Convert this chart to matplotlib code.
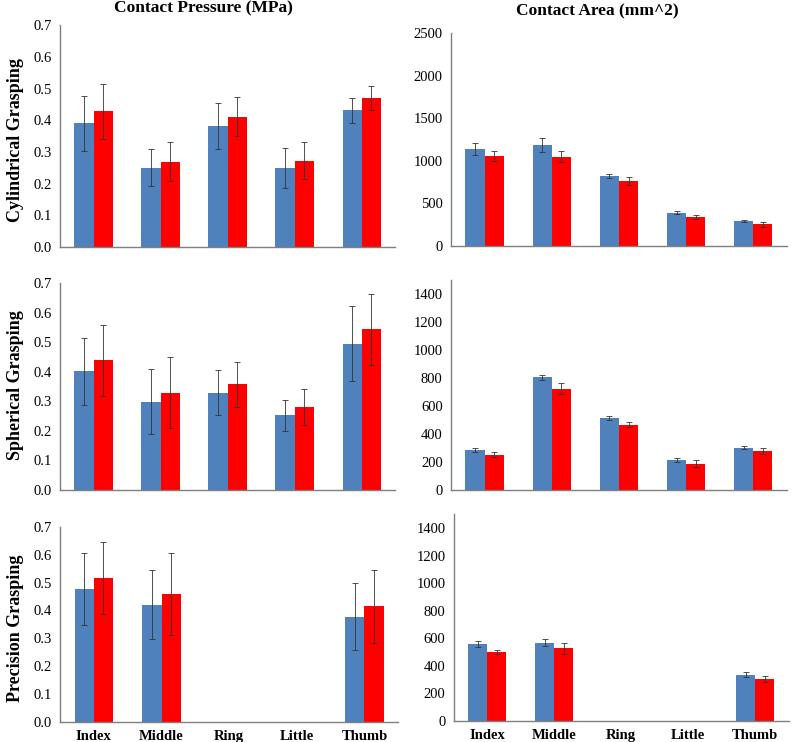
import matplotlib.pyplot as plt
import numpy as np

fingers = ["Index", "Middle", "Ring", "Little", "Thumb"]
rows = ["Cylindrical Grasping", "Spherical Grasping", "Precision Grasping"]
nan = np.nan

# contact pressure (MPa): blue / red series with error bars
cyl_p_blue = [0.39, 0.25, 0.383, 0.249, 0.431]
cyl_p_blue_err = [0.086, 0.058, 0.073, 0.063, 0.038]
cyl_p_red = [0.428, 0.27, 0.412, 0.272, 0.47]
cyl_p_red_err = [0.086, 0.06, 0.063, 0.058, 0.037]

sph_p_blue = [0.402, 0.299, 0.329, 0.253, 0.495]
sph_p_blue_err = [0.113, 0.11, 0.076, 0.053, 0.126]
sph_p_red = [0.439, 0.329, 0.357, 0.28, 0.544]
sph_p_red_err = [0.12, 0.12, 0.077, 0.06, 0.12]

pre_p_blue = [0.477, 0.421, nan, nan, 0.378]
pre_p_blue_err = [0.128, 0.123, nan, nan, 0.12]
pre_p_red = [0.516, 0.459, nan, nan, 0.415]
pre_p_red_err = [0.13, 0.148, nan, nan, 0.13]

# contact area (mm^2)
cyl_a_blue = [1140, 1185, 822, 392, 292]
cyl_a_blue_err = [72, 78, 25, 20, 16]
cyl_a_red = [1055, 1050, 765, 337, 255]
cyl_a_red_err = [57, 62, 50, 22, 30]

sph_a_blue = [286, 806, 513, 212, 303]
sph_a_blue_err = [17, 17, 14, 15, 10]
sph_a_red = [253, 723, 467, 188, 277]
sph_a_red_err = [17, 40, 17, 24, 21]

pre_a_blue = [560, 568, nan, nan, 337]
pre_a_blue_err = [20, 24, nan, nan, 20]
pre_a_red = [500, 527, nan, nan, 306]
pre_a_red_err = [12, 40, nan, nan, 24]

pressure = [(cyl_p_blue, cyl_p_blue_err, cyl_p_red, cyl_p_red_err),
            (sph_p_blue, sph_p_blue_err, sph_p_red, sph_p_red_err),
            (pre_p_blue, pre_p_blue_err, pre_p_red, pre_p_red_err)]
area = [(cyl_a_blue, cyl_a_blue_err, cyl_a_red, cyl_a_red_err),
        (sph_a_blue, sph_a_blue_err, sph_a_red, sph_a_red_err),
        (pre_a_blue, pre_a_blue_err, pre_a_red, pre_a_red_err)]

BLUE = "#4F81BD"
RED = "#FF0000"
SERIF = "Liberation Serif"

plt.rcParams["font.family"] = SERIF

fig = plt.figure(figsize=(7.96, 7.42), dpi=100)

# [left, bottom, width, height] for each panel
left_pos = [[0.0754, 0.667, 0.421, 0.299],
            [0.0754, 0.3396, 0.421, 0.279],
            [0.0754, 0.027, 0.425, 0.263]]
right_pos = [[0.5666, 0.6685, 0.422, 0.287],
             [0.5666, 0.3396, 0.422, 0.283],
             [0.570, 0.0283, 0.421, 0.2787]]

x = np.arange(len(fingers))
w = 0.285


def draw(ax, data, ylim, yticks, fmt, show_x):
    blue, blue_err, red, red_err = data
    ekw = dict(ecolor="#333333", elinewidth=0.6, capsize=2, capthick=0.6)
    ax.bar(x - w / 2, blue, w, yerr=blue_err, color=BLUE, error_kw=ekw)
    ax.bar(x + w / 2, red, w, yerr=red_err, color=RED, error_kw=ekw)
    ax.set_xlim(-0.5, 4.5)
    ax.set_ylim(*ylim)
    ax.set_yticks(yticks)
    ax.set_yticklabels([fmt % t for t in yticks], fontsize=10.5)
    for s in ["top", "right"]:
        ax.spines[s].set_visible(False)
    for s in ["left", "bottom"]:
        ax.spines[s].set_color("#7f7f7f")
        ax.spines[s].set_linewidth(1.0)
    ax.tick_params(axis="both", length=0, pad=6)
    ax.set_xticks(x)
    if show_x:
        ax.set_xticklabels(fingers, fontsize=10.5, fontweight="bold")
    else:
        ax.set_xticklabels([])


for i in range(3):
    axl = fig.add_axes(left_pos[i])
    draw(axl, pressure[i], (0, 0.7), np.arange(0, 0.71, 0.1), "%.1f", i == 2)
    axr = fig.add_axes(right_pos[i])
    if i == 0:
        draw(axr, area[i], (0, 2500), np.arange(0, 2501, 500), "%d", False)
    else:
        draw(axr, area[i], (0, 1500), np.arange(0, 1401, 200), "%d", i == 2)

fig.text(0.255, 0.989, "Contact Pressure (MPa)", ha="center", va="center",
         fontsize=12.5, fontweight="bold")
fig.text(0.75, 0.984, "Contact Area (mm^2)", ha="center", va="center",
         fontsize=12.5, fontweight="bold")

row_y = [1 - 140 / 742, 1 - 385 / 742, 1 - 628 / 742]
for label, yy in zip(rows, row_y):
    fig.text(0.019, yy, label, rotation=90, ha="center", va="center",
             fontsize=13, fontweight="bold")

fig.savefig("out.png", dpi=100)
